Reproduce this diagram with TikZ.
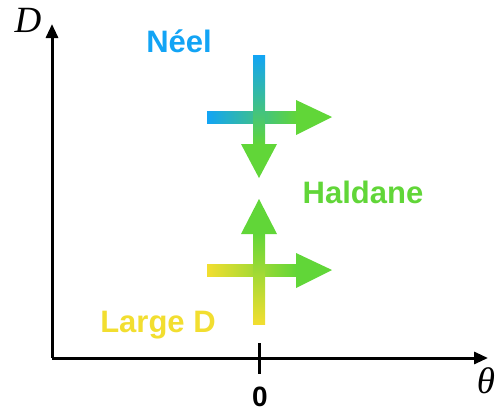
\documentclass[tikz,border=0pt]{standalone}
\usepackage{fontspec}
\setmainfont{Liberation Serif}
\newfontfamily\labfont{Liberation Sans}
\usetikzlibrary{arrows.meta}
\definecolor{neelblue}{RGB}{18,164,245}
\definecolor{halgreen}{RGB}{97,214,56}
\definecolor{lyellow}{RGB}{242,222,48}
\tikzset{
  axis/.style={line width=3pt, -{Triangle[width=12pt,length=14pt]}},
  phase/.style={font=\labfont\bfseries\fontsize{31}{31}\selectfont, anchor=base},
  axlab/.style={font=\itshape\fontsize{37}{37}\selectfont},
  head/.style={fill=halgreen, draw=none}
}
\begin{document}
\begin{tikzpicture}[x=1pt,y=-1pt]
\useasboundingbox (0,0) rectangle (501,413);
% axes
\coordinate (o) at (52,358);
\coordinate (ytip) at (52,24);
\coordinate (xtip) at (488,358);
\draw[axis] (o) -- (ytip);
\draw[axis] (o) -- (xtip);
\coordinate (t1) at (259,343);
\coordinate (t2) at (259,374);
\draw[line width=3pt] (t1) -- (t2);
\node[axlab] (Dl) at (28,20) {D};
\node[axlab] (thl) at (486,381) {θ};
\node[font=\labfont\bfseries\fontsize{28}{28}\selectfont] (zero) at (260,397) {0};
% upper cross
\shade[left color=neelblue, right color=halgreen] (207,111) rectangle (297,123);
\shade[top color=neelblue, bottom color=halgreen] (253,55) rectangle (265,145);
\fill[head] (296,100) -- (332,117) -- (296,135) -- cycle;
\fill[head] (241,144) -- (277,144) -- (259,178) -- cycle;
% lower cross
\shade[left color=lyellow, right color=halgreen] (207,264) rectangle (297,276);
\shade[top color=halgreen, bottom color=lyellow] (253,233) rectangle (265,324);
\fill[head] (296,253) -- (332,270) -- (296,288) -- cycle;
\fill[head] (241,234) -- (277,234) -- (259,199) -- cycle;
% labels
\node[phase, text=neelblue] (neel) at (179,52) {Néel};
\node[phase, text=halgreen] (hal) at (363,203) {Haldane};
\node[phase, text=lyellow] (ld) at (158,332) {Large D};
\end{tikzpicture}
\end{document}
